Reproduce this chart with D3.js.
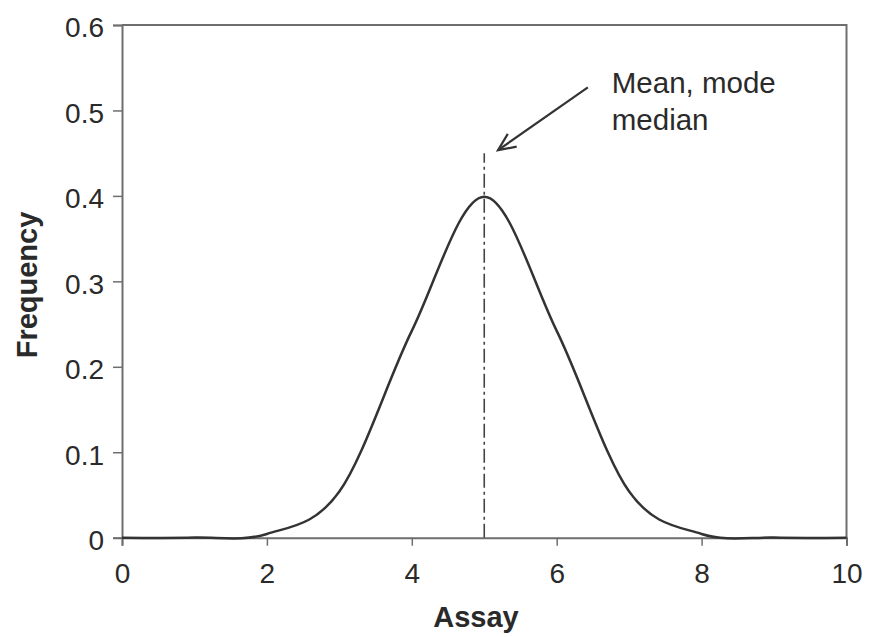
<!DOCTYPE html>
<html>
<head>
<meta charset="utf-8">
<script src="https://cdn.jsdelivr.net/npm/d3@7/dist/d3.min.js"></script>
<style>
  html, body { margin: 0; padding: 0; background: #fff; }
  svg { display: block; }
  text { font-family: "Liberation Sans", Arial, Helvetica, sans-serif; fill: #2a2a2a; }
</style>
</head>
<body>
<svg id="chart" width="870" height="637"></svg>
<script>
// Assay values and the frequency of each (normal distribution, mean 5, sd 1)
const assay = [0, 1, 2, 3, 4, 5, 6, 7, 8, 9, 10];
const frequency = [0, 0.0001, 0.0044, 0.054, 0.242, 0.399, 0.242, 0.054, 0.0044, 0.0001, 0];

const xTicks = [0, 2, 4, 6, 8, 10];
const yTicks = [0, 0.1, 0.2, 0.3, 0.4, 0.5, 0.6];

// Central-tendency marker and its annotation
const centre = 5;
const centreTop = 0.45;
const noteLines = ["Mean, mode", "median"];
const notePos = { x: 6.76, y: 0.5205 };
const arrowFrom = { x: 6.43, y: 0.527 };
const arrowTo = { x: 5.19, y: 0.4535 };

const svg = d3.select("#chart");
const margin = { left: 122, right: 23.5, top: 25, bottom: 99.3 };
const W = 870, H = 637;

const x = d3.scaleLinear().domain([0, 10]).range([margin.left, W - margin.right]);
const y = d3.scaleLinear().domain([0, 0.6]).range([H - margin.bottom, margin.top]);

const axisColor = "#6e6e6e";

// Plot frame (top and right edges)
svg.append("path")
  .attr("d", `M${x(0)},${y(0.6)}H${x(10)}V${y(0)}`)
  .attr("fill", "none").attr("stroke", axisColor).attr("stroke-width", 2);

// X axis
const xAxis = svg.append("g")
  .attr("transform", `translate(0,${y(0)})`)
  .call(d3.axisBottom(x).tickValues(xTicks).tickFormat(d3.format("d")).tickSizeOuter(0).tickSize(8).tickPadding(17));
xAxis.select(".domain").attr("stroke", axisColor).attr("stroke-width", 2);
xAxis.selectAll(".tick line").attr("stroke", axisColor).attr("stroke-width", 1.5);
xAxis.selectAll(".tick text")
  .attr("font-size", 28).attr("fill", "#2a2a2a")
  .attr("font-family", "'Liberation Sans', Arial, sans-serif");

// Y axis
const yAxis = svg.append("g")
  .attr("transform", `translate(${x(0)},0)`)
  .call(d3.axisLeft(y).tickValues(yTicks).tickFormat(d => d === 0 ? "0" : d3.format(".1f")(d)).tickSizeOuter(0).tickSize(9).tickPadding(9));
yAxis.select(".domain").attr("stroke", axisColor).attr("stroke-width", 2);
yAxis.selectAll(".tick line").attr("stroke", axisColor).attr("stroke-width", 1.5);
yAxis.selectAll(".tick text")
  .attr("font-size", 28).attr("fill", "#2a2a2a").attr("dy", "0.42em")
  .attr("font-family", "'Liberation Sans', Arial, sans-serif");

// Frequency curve
const points = assay.map((a, i) => [a, frequency[i]]);
svg.append("path")
  .datum(points)
  .attr("d", d3.line().x(d => x(d[0])).y(d => y(d[1])).curve(d3.curveCatmullRom.alpha(0)))
  .attr("fill", "none").attr("stroke", "#333").attr("stroke-width", 2.5);

// Mean / mode / median line
svg.append("line")
  .attr("x1", x(centre)).attr("x2", x(centre))
  .attr("y1", y(0)).attr("y2", y(centreTop))
  .attr("stroke", "#444").attr("stroke-width", 1.6)
  .attr("stroke-dasharray", "14,4,3,4");

// Annotation arrow
const ax1 = x(arrowFrom.x), ay1 = y(arrowFrom.y), ax2 = x(arrowTo.x), ay2 = y(arrowTo.y);
const ang = Math.atan2(ay2 - ay1, ax2 - ax1);
const head = 19, spread = 0.42;
svg.append("line")
  .attr("x1", ax1).attr("y1", ay1).attr("x2", ax2).attr("y2", ay2)
  .attr("stroke", "#333").attr("stroke-width", 2.2);
svg.append("path")
  .attr("d", `M${ax2 - head * Math.cos(ang - spread)},${ay2 - head * Math.sin(ang - spread)}L${ax2},${ay2}L${ax2 - head * Math.cos(ang + spread)},${ay2 - head * Math.sin(ang + spread)}`)
  .attr("fill", "none").attr("stroke", "#333").attr("stroke-width", 2.2).attr("stroke-linejoin", "miter");

const note = svg.append("text")
  .attr("x", x(notePos.x)).attr("y", y(notePos.y))
  .attr("font-size", 29.5);
noteLines.forEach((t, i) => {
  note.append("tspan").attr("x", x(notePos.x)).attr("dy", i === 0 ? 0 : 37).text(t);
});

// Axis titles
svg.append("text")
  .attr("x", 476).attr("y", 627)
  .attr("text-anchor", "middle").attr("font-size", 29).attr("font-weight", "bold")
  .text("Assay");
svg.append("text")
  .attr("transform", `translate(37,285) rotate(-90)`)
  .attr("text-anchor", "middle").attr("font-size", 29).attr("font-weight", "bold")
  .text("Frequency");
</script>
</body>
</html>
